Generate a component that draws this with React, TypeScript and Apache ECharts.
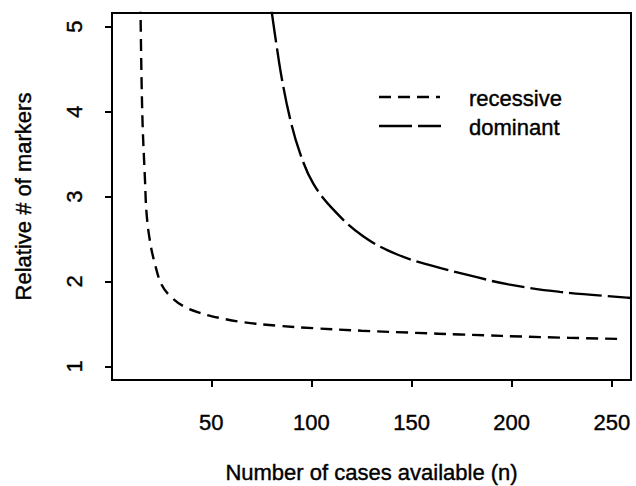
import React, { useEffect, useRef } from "react";
import * as echarts from "echarts";

const recessiveN = [14.6, 15.5, 16.9, 17.7, 19.4, 21.9, 25.2, 29.4, 36, 44.4, 54.3, 66, 82.7, 101, 125, 152, 174.2, 215.8, 256];
const recessiveY = [5.3, 4.0, 3.18, 2.79, 2.47, 2.2, 1.96, 1.83, 1.71, 1.63, 1.57, 1.52, 1.48, 1.45, 1.42, 1.395, 1.376, 1.344, 1.323];
const dominantN = [80.0, 82.7, 85.2, 89.3, 94.3, 101, 111.8, 126, 142.6, 161, 182.6, 198.4, 224.2, 257.5, 260];
const dominantY = [5.2, 4.76, 4.39, 3.92, 3.51, 3.15, 2.825, 2.53, 2.32, 2.18, 2.05, 1.965, 1.877, 1.81, 1.805];
const xTicks = [50, 100, 150, 200, 250];
const yTicks = [1, 2, 3, 4, 5];
const seriesNames = ["recessive", "dominant"];

const FONT = "'Liberation Sans', Arial, Helvetica, sans-serif";
const RECESSIVE_DASH = [12, 7];
const DOMINANT_DASH = [33, 6];
const LINE_W = 2.4;

export default function App() {
  const ref = useRef<HTMLDivElement>(null);
  useEffect(() => {
    if (!ref.current) return;
    const chart = echarts.init(ref.current, null, { renderer: "svg" });
    const textStyle = {
      fontFamily: FONT,
      fontSize: 22,
      color: "#000",
      textBorderColor: "#000",
      textBorderWidth: 0.4,
    };
    chart.setOption({
      animation: false,
      backgroundColor: "#fff",
      grid: {
        left: 112,
        top: 13,
        right: 5,
        bottom: 106,
        show: true,
        borderColor: "#000",
        borderWidth: 2,
        backgroundColor: "transparent",
        containLabel: false,
        outerBoundsMode: "none",
      },
      xAxis: {
        type: "value",
        min: 0.4,
        max: 259.6,
        name: "Number of cases available (n)",
        nameLocation: "middle",
        nameGap: 81,
        nameTextStyle: textStyle,
        axisLine: { show: false },
        splitLine: { show: false },
        axisTick: { show: true, length: 7, inside: false, customValues: xTicks, lineStyle: { color: "#000", width: 2 } },
        axisLabel: { ...textStyle, margin: 31, customValues: xTicks },
      },
      yAxis: {
        type: "value",
        min: 0.84,
        max: 5.16,
        name: "Relative # of markers",
        nameLocation: "middle",
        nameGap: 78,
        nameTextStyle: textStyle,
        axisLine: { show: false },
        splitLine: { show: false },
        axisTick: { show: true, length: 7, inside: false, customValues: yTicks, lineStyle: { color: "#000", width: 2 } },
        axisLabel: { ...textStyle, margin: 27, rotate: 90, customValues: yTicks },
      },
      series: [
        {
          name: seriesNames[0],
          type: "line",
          data: recessiveN.map((n, i) => [n, recessiveY[i]]),
          showSymbol: false,
          smooth: 0.4,
          clip: true,
          lineStyle: { color: "#000", width: LINE_W, type: RECESSIVE_DASH },
        },
        {
          name: seriesNames[1],
          type: "line",
          data: dominantN.map((n, i) => [n, dominantY[i]]),
          showSymbol: false,
          smooth: 0.4,
          clip: true,
          lineStyle: { color: "#000", width: LINE_W, type: DOMINANT_DASH },
        },
      ],
      graphic: [
        { type: "line", shape: { x1: 379, y1: 97, x2: 440, y2: 97 }, style: { stroke: "#000", lineWidth: LINE_W, lineDash: RECESSIVE_DASH } },
        { type: "line", shape: { x1: 379, y1: 126, x2: 441, y2: 126 }, style: { stroke: "#000", lineWidth: LINE_W, lineDash: DOMINANT_DASH } },
        { type: "text", x: 469, y: 98, style: { text: seriesNames[0], font: `22px ${FONT}`, fill: "#000", stroke: "#000", lineWidth: 0.4, verticalAlign: "middle" } },
        { type: "text", x: 469, y: 127, style: { text: seriesNames[1], font: `22px ${FONT}`, fill: "#000", stroke: "#000", lineWidth: 0.4, verticalAlign: "middle" } },
      ],
    });
    return () => chart.dispose();
  }, []);
  return <div ref={ref} style={{ width: 636, height: 486, position: "absolute", left: 0, top: 0 }} />;
}
